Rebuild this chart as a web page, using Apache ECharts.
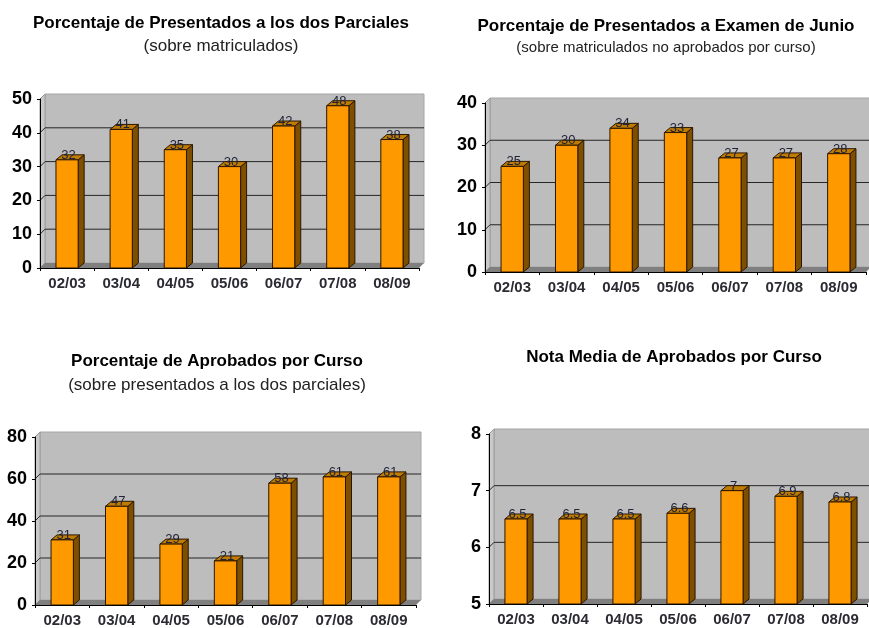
<!DOCTYPE html>
<html><head><meta charset="utf-8">
<style>html,body{margin:0;padding:0;background:#fff}#c{width:869px;height:628px}</style>
<script src="https://cdn.jsdelivr.net/npm/echarts@6/dist/echarts.min.js"></script>
</head><body><div id="c"></div>
<script>
const categories = ['02/03','03/04','04/05','05/06','06/07','07/08','08/09'];
const presentadosParciales = [32,41,35,30,42,48,38];
const presentadosJunio = [25,30,34,33,27,27,28];
const aprobados = [31,47,29,21,58,61,61];
const notaMedia = [6.5,6.5,6.5,6.6,7,6.9,6.8];
const ticks1 = [0,10,20,30,40,50];
const ticks2 = [0,10,20,30,40];
const ticks3 = [0,20,40,60,80];
const ticks4 = [5,6,7,8];

const panels = [
 {values:presentadosParciales,ticks:ticks1,title:'Porcentaje de Presentados a los dos Parciales',sub:'(sobre matriculados)',cx:221,ty:15,sy:38,ss:17,box:[40,99,379,169]},
 {values:presentadosJunio,ticks:ticks2,title:'Porcentaje de Presentados a Examen de Junio',sub:'(sobre matriculados no aprobados por curso)',cx:666,ty:18,sy:40,ss:15,box:[485,103,381,169]},
 {values:aprobados,ticks:ticks3,title:'Porcentaje de Aprobados por Curso',sub:'(sobre presentados a los dos parciales)',cx:217,ty:353,sy:377,ss:17,box:[35,437,381,170]},
 {values:notaMedia,ticks:ticks4,title:'Nota Media de Aprobados por Curso',sub:'',cx:674,ty:349,sy:0,ss:12,box:[489,434,378,170]}
];
const DX=5, DY=5, SX=6, SY=5;
const FONT='"Liberation Sans", Arial, sans-serif';

const grid=[],xAxis=[],yAxis=[],series=[],title=[];
panels.forEach((p,i)=>{
  const [l,t,w,h]=p.box;
  grid.push({left:l,top:t,width:w,height:h});
  xAxis.push({type:'category',gridIndex:i,data:categories,
    axisLine:{lineStyle:{color:'#000',width:1}},
    axisTick:{show:true,length:3,lineStyle:{color:'#000'}},
    axisLabel:{interval:0,margin:8,color:'#2b2b33',fontFamily:FONT,fontWeight:'bold',fontSize:15},z:6});
  yAxis.push({type:'value',gridIndex:i,min:p.ticks[0],max:p.ticks[p.ticks.length-1],interval:p.ticks[1]-p.ticks[0],
    axisLine:{show:true,lineStyle:{color:'#000',width:1}},
    axisTick:{show:true,length:3,lineStyle:{color:'#000'}},
    splitLine:{show:false},
    axisLabel:{margin:8,color:'#000',fontFamily:FONT,fontWeight:'bold',fontSize:18},z:6});
  // walls and floor
  series.push({type:'custom',xAxisIndex:i,yAxisIndex:i,z:1,silent:true,clip:false,data:[[0,p.ticks[0]]],
    renderItem(params){
      const c=params.coordSys, x0=c.x,x1=c.x+c.width,y0=c.y,y1=c.y+c.height;
      return {type:'group',children:[
        {type:'polygon',shape:{points:[[x0+DX,y0-DY],[x1+DX,y0-DY],[x1+DX,y1-DY],[x0+DX,y1-DY]]},style:{fill:'#bdbdbd',stroke:'#a6a6a6',lineWidth:1}},
        {type:'polygon',shape:{points:[[x0,y0],[x0+DX,y0-DY],[x0+DX,y1-DY],[x0,y1]]},style:{fill:'#c9c9c9',stroke:'#9a9a9a',lineWidth:1}},
        {type:'polygon',shape:{points:[[x0,y1],[x0+DX,y1-DY],[x1+DX,y1-DY],[x1,y1]]},style:{fill:'#7f7f7f'}}
      ]};
    }});
  // gridlines on the back wall
  series.push({type:'custom',xAxisIndex:i,yAxisIndex:i,z:2,silent:true,clip:false,
    data:p.ticks.slice(1,-1).map(v=>[0,v]),encode:{x:0,y:1},
    renderItem(params,api){
      const c=params.coordSys, y=api.coord([0,api.value(1)])[1];
      return {type:'polyline',shape:{points:[[c.x,y],[c.x+DX,y-DY],[c.x+c.width+DX,y-DY]]},style:{fill:'none',stroke:'#262626',lineWidth:1}};
    }});
  // bars
  series.push({type:'custom',xAxisIndex:i,yAxisIndex:i,z:3,silent:true,clip:false,
    data:p.values.map((v,k)=>[k,v]),encode:{x:0,y:1},
    renderItem(params,api){
      const v=api.value(1), pt=api.coord([api.value(0),v]), base=api.coord([api.value(0),p.ticks[0]])[1];
      const bw=api.size([1,0])[0]*0.41, a=pt[0]-bw/2, b=pt[0]+bw/2, y=pt[1];
      const ls={stroke:'#2a1600',lineWidth:1};
      return {type:'group',children:[
        {type:'polygon',shape:{points:[[b,y],[b+SX,y-SY],[b+SX,base-SY],[b,base]]},style:Object.assign({fill:'#7f4f00'},ls)},
        {type:'polygon',shape:{points:[[a,y],[a+SX,y-SY],[b+SX,y-SY],[b,y]]},style:Object.assign({fill:'#c07c00'},ls)},
        {type:'text',style:{text:String(v),x:pt[0]+1.5,y:y+2,align:'center',verticalAlign:'bottom',fill:'#20243a',font:'13px '+FONT}},
        {type:'rect',shape:{x:a,y:y,width:bw,height:base-y},style:Object.assign({fill:'#ff9900'},ls)}
      ]};
    }});
  title.push({text:p.title,left:p.cx,top:p.ty,textAlign:'center',padding:0,textStyle:{fontFamily:FONT,fontWeight:'bold',fontSize:17,color:'#000'}});
  if(p.sub) title.push({text:p.sub,left:p.cx,top:p.sy,textAlign:'center',padding:0,textStyle:{fontFamily:FONT,fontWeight:'normal',fontSize:p.ss,color:'#222'}});
});
const chart=echarts.init(document.getElementById('c'),null,{renderer:'canvas'});
chart.setOption({animation:false,backgroundColor:'#fff',title,grid,xAxis,yAxis,series});
</script></body></html>
